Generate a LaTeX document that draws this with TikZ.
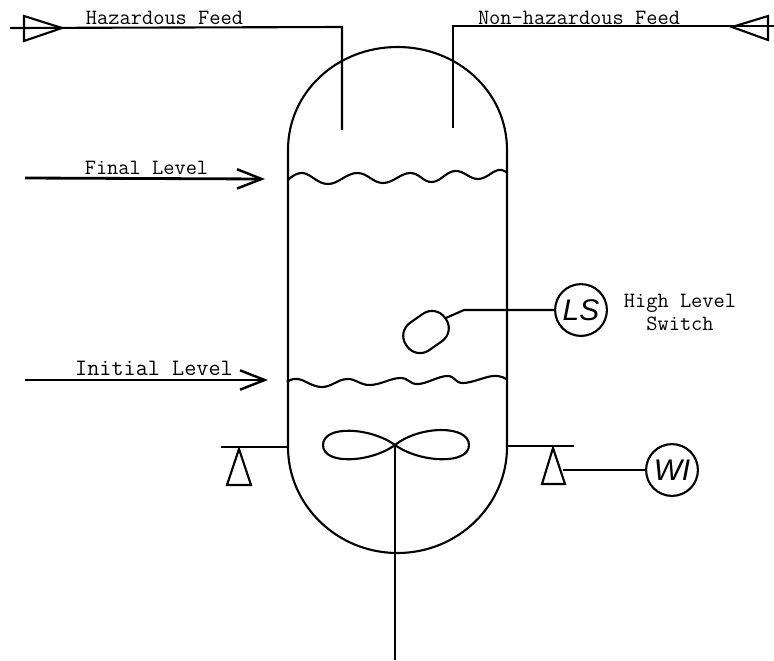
\documentclass[tikz,border=0pt]{standalone}
\usepackage{fontspec}
\newfontfamily\handfont{Liberation Sans}
\usetikzlibrary{arrows.meta}
\tikzset{
  pipe/.style={line width=1.2pt, line join=miter},
  label/.style={font=\fontsize{12.4}{13}\selectfont\ttfamily, align=center, inner sep=0pt},
  level/.style={line width=1.6pt, -{Straight Barb[length=14pt, width=11pt, line width=1.4pt]}},
  instr/.style={draw, circle, line width=1.2pt, minimum size=29.5pt, inner sep=0pt,
    font=\fontsize{17}{17}\selectfont\handfont\itshape},
}
\begin{document}
\begin{tikzpicture}[x=.02cm, y=-.02cm, pipe]
  \useasboundingbox (0,0) rectangle (774,660);

  % vessel
  \draw (288,447) -- (288,150)
    .. controls (288,92) and (337,47) .. (397.5,47)
    .. controls (458,47) and (507,92) .. (507,150)
    -- (507,447)
    .. controls (507,505) and (458,553) .. (397.5,553)
    .. controls (337,553) and (288,505) .. (288,447);

  % hazardous feed
  \coordinate (hazstart) at (10,28);
  \coordinate (hazknee) at (342,27);
  \coordinate (hazend) at (342,130);
  \draw (hazstart) -- (hazknee) -- (hazend);
  \draw (24,16) -- (62,28) -- (24,41) -- cycle;
  \node[label] (hazlabel) at (164.5,18) {Hazardous Feed};

  % non-hazardous feed
  \coordinate (nonstart) at (774,26);
  \coordinate (nonknee) at (453,26);
  \coordinate (nonend) at (453,128);
  \draw (nonstart) -- (nonknee) -- (nonend);
  \draw (768,16) -- (732,27) -- (768,40) -- cycle;
  \node[label] (nonlabel) at (579,18) {Non-hazardous Feed};

  % levels
  \coordinate (finalstart) at (25,178);
  \coordinate (finalend) at (265,179);
  \draw[level] (finalstart) -- (finalend);
  \node[label] (finallabel) at (146.5,168) {Final Level};
  \draw plot[smooth, tension=.7] coordinates {(288,180) (303,173) (328,184) (357,173)
    (383,183) (410,173) (432,182) (455,171) (478,179) (498,170) (507,173)};
  \coordinate (initstart) at (25,380);
  \coordinate (initend) at (268,380);
  \draw[level] (initstart) -- (initend);
  \node[label, font=\fontsize{13.4}{14}\selectfont\ttfamily] (initlabel) at (154,368) {Initial Level};
  \draw plot[smooth, tension=.7] coordinates {(287,382) (298,379) (322,387) (347,379)
    (370,385) (400,378) (418,384) (447,376) (463,383) (493,376) (506,379)};

  % high level switch
  \node[instr] (LS) at (581,310) {LS};
  \node[label] (LSlabel) at (680,312.5) {High Level\\Switch};
  \node[draw, rotate=35, rounded corners=9pt, minimum width=27pt, minimum height=19pt,
    inner sep=0pt] (floatball) at (426,332) {};
  \coordinate (floatknee) at (464,310);
  \draw (LS) -- (floatknee) -- (floatball.east);

  % agitator
  \coordinate (hub) at (395,445);
  \coordinate (shaftend) at (395,660);
  \draw (hub) .. controls (370,427) and (323,425) .. (323,445)
    .. controls (323,465) and (370,463) .. (hub)
    .. controls (420,425) and (469,425) .. (469,445)
    .. controls (469,465) and (420,463) .. (hub);
  \draw (hub) -- (shaftend);

  % weigh cells
  \coordinate (beamL) at (221,447);
  \coordinate (wallL) at (288,447);
  \draw (beamL) -- (wallL);
  \draw (239,449) -- (227,485) -- (251,485) -- cycle;
  \coordinate (wallR) at (507,446);
  \coordinate (beamR) at (574,446);
  \draw (wallR) -- (beamR);
  \draw (553,448) -- (542,484) -- (565,484) -- cycle;
  \node[instr] (WI) at (672,470) {WI};
  \coordinate (cellR) at (563,470);
  \draw (cellR) -- (WI);
\end{tikzpicture}
\end{document}
